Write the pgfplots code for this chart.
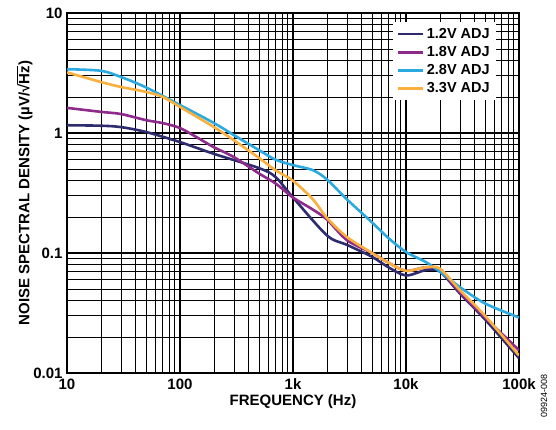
\documentclass[border=0pt]{standalone}
\usepackage{pgfplots}
\pgfplotsset{compat=1.18}
\usepackage{fontspec}
\setmainfont{Liberation Sans}
\definecolor{cnavy}{HTML}{2E2C6E}
\definecolor{cpurple}{HTML}{8E2A8C}
\definecolor{cblue}{HTML}{2AAAE1}
\definecolor{corange}{HTML}{FBAF3C}
\begin{document}
\begin{tikzpicture}[x=1pt,y=1pt]
\path[use as bounding box] (0,0) rectangle (556,429);
\begin{axis}[
  at={(67pt,56pt)}, anchor=south west,
  scale only axis, width=452pt, height=360pt,
  xmode=log, ymode=log,
  xmin=10, xmax=100000, ymin=0.01, ymax=10,
  xtick={10,100,1000,10000,100000},
  xticklabels={10,100,1k,10k,100k},
  ytick={0.01,0.1,1,10},
  yticklabels={0.01,0.1,1,10},
  grid=both,
  major grid style={black, line width=1.1pt},
  minor grid style={black, line width=0.7pt},
  major tick length=0pt, minor tick length=0pt,
  axis line style={black, line width=1.3pt},
  tick label style={font=\fontsize{15}{17}\selectfont\bfseries},
  xticklabel style={yshift=-2pt},
  yticklabel style={xshift=-1pt},
  /pgf/number format/assume math mode=true,
  xlabel={FREQUENCY (Hz)},
  ylabel={NOISE SPECTRAL DENSITY (µV/√\ensuremath{\overline{\mbox{Hz}}})},
  label style={font=\fontsize{15}{17}\selectfont\bfseries},
  xlabel style={yshift=2pt},
  ylabel style={yshift=-6pt},
  legend style={at={(0.949,0.975)}, anchor=north east, draw=none, fill=white,
    font=\fontsize{14.5}{16}\selectfont\bfseries, row sep=2.5pt,
    inner xsep=4pt, inner ysep=4pt},
  legend cell align=left,
  legend image code/.code={\draw[#1, line width=2.8pt] (0pt,0pt) -- (25pt,0pt);},
  every axis plot/.append style={line width=2.6pt, smooth, tension=0.5},
]
\addplot[cnavy] coordinates {
 (10,1.16) (20,1.15) (30,1.12) (50,1.02) (100,0.84) (200,0.67) (500,0.51) (700,0.43)
 (1000,0.29) (2000,0.14) (3000,0.117) (5000,0.093) (7000,0.076) (10000,0.065)
 (15000,0.072) (20000,0.07) (30000,0.046) (50000,0.028) (100000,0.0133)};
\addlegendentry{1.2V ADJ}
\addplot[cpurple] coordinates {
 (10,1.62) (20,1.5) (30,1.44) (50,1.28) (70,1.21) (100,1.1) (150,0.89) (200,0.76)
 (300,0.63) (500,0.46) (700,0.38) (1000,0.29) (1500,0.23) (2000,0.19) (3000,0.128)
 (5000,0.1) (7000,0.083) (10000,0.071) (15000,0.076) (20000,0.072) (30000,0.047)
 (50000,0.029) (100000,0.0155)};
\addlegendentry{1.8V ADJ}
\addplot[cblue] coordinates {
 (10,3.4) (20,3.3) (30,2.93) (50,2.4) (100,1.71) (200,1.21) (300,0.96) (500,0.72)
 (700,0.6) (1000,0.54) (1500,0.49) (2000,0.41) (3000,0.28) (5000,0.18) (7000,0.133)
 (10000,0.102) (15000,0.084) (20000,0.07) (30000,0.052) (50000,0.038) (100000,0.029)};
\addlegendentry{2.8V ADJ}
\addplot[corange] coordinates {
 (10,3.2) (20,2.66) (30,2.42) (50,2.2) (70,2.0) (100,1.65) (200,1.12) (300,0.87)
 (500,0.62) (700,0.49) (1000,0.4) (1500,0.28) (2000,0.196) (3000,0.136) (5000,0.1)
 (7000,0.083) (10000,0.071) (15000,0.076) (20000,0.074) (30000,0.049) (50000,0.03)
 (100000,0.014)};
\addlegendentry{3.3V ADJ}
\end{axis}
\node[rotate=90, font=\fontsize{9}{10}\selectfont] at (544,33) {09924-008};
\end{tikzpicture}
\end{document}
